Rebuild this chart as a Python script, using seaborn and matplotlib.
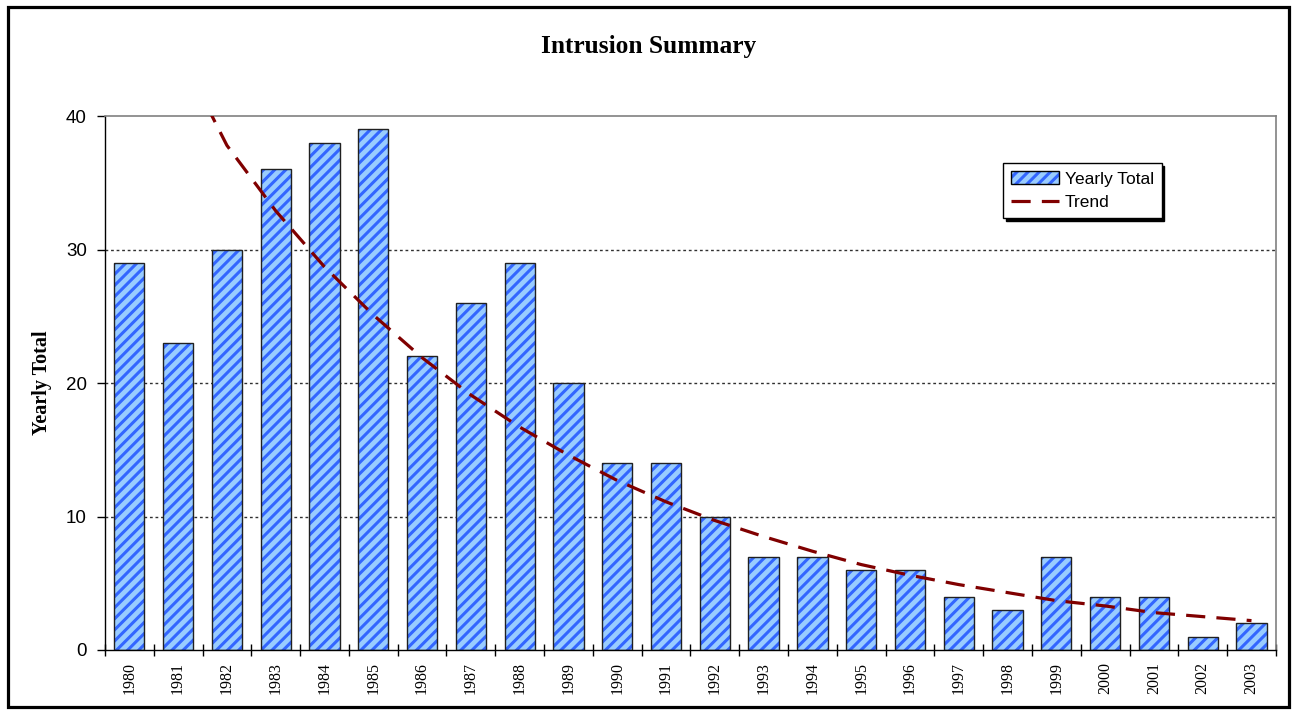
import numpy as np
import pandas as pd
import seaborn as sns
import matplotlib.pyplot as plt
from matplotlib.patches import Patch, Rectangle
from matplotlib.lines import Line2D

# values
years = ["1980", "1981", "1982", "1983", "1984", "1985", "1986", "1987",
         "1988", "1989", "1990", "1991", "1992", "1993", "1994", "1995",
         "1996", "1997", "1998", "1999", "2000", "2001", "2002", "2003"]
yearly_total = [29, 23, 30, 36, 38, 39, 22, 26, 29, 20, 14, 14,
                10, 7, 7, 6, 6, 4, 3, 7, 4, 4, 1, 2]
trend = [51.0, 45.0, 37.8, 32.9, 28.7, 25.1, 21.9, 19.1, 16.7, 14.6, 12.7, 11.1,
         9.7, 8.5, 7.4, 6.4, 5.6, 4.9, 4.3, 3.7, 3.3, 2.8, 2.5, 2.2]
y_ticks = [0, 10, 20, 30, 40]

sns.set_style("white")
plt.rcParams["font.family"] = ["Liberation Sans", "DejaVu Sans"]
plt.rcParams["hatch.linewidth"] = 2.2
# plain black text like the original
for key in ["text.color", "axes.labelcolor", "xtick.color", "ytick.color"]:
    plt.rcParams[key] = "black"

df = pd.DataFrame({"Year": years, "Yearly Total": yearly_total, "Trend": trend})

bar_face = "#99ccff"
hatch_blue = "#3366ff"
trend_red = "#800000"
dash = (0, (6, 3.5))

fig = plt.figure(figsize=(12.94, 7.11), dpi=100)
ax = fig.add_axes([0.0811, 0.0858, 0.9049, 0.751])

# hatched fill, then a black outline on top
sns.barplot(data=df, x="Year", y="Yearly Total", color=bar_face, saturation=1,
            width=0.62, edgecolor=hatch_blue, linewidth=0, hatch="///",
            errorbar=None, ax=ax, zorder=2)
sns.barplot(data=df, x="Year", y="Yearly Total", color="#202020", fill=False,
            width=0.62, linewidth=1, errorbar=None, ax=ax, zorder=3)

sns.pointplot(data=df, x="Year", y="Trend", color=trend_red, marker="",
              linestyle=dash, linewidth=2.3, errorbar=None, ax=ax, zorder=4)

for v in y_ticks[1:-1]:
    ax.axhline(v, color="#303030", linestyle=(0, (2, 2)), linewidth=1, zorder=1)

ax.set_ylim(0, 40)
ax.set_xlim(-0.5, len(years) - 0.5)
ax.set_yticks(y_ticks)
ax.set_xticks(np.arange(len(years) + 1) - 0.5, minor=True)

for side in ["left", "bottom"]:
    ax.spines[side].set_color("black")
    ax.spines[side].set_linewidth(1)
for side in ["top", "right"]:
    ax.spines[side].set_color("#808080")
    ax.spines[side].set_linewidth(1.2)

ax.tick_params(axis="y", left=True, direction="out", length=6, width=1,
               color="black", labelsize=13.5, pad=7)
ax.tick_params(axis="x", which="major", bottom=True, length=0, pad=9)
ax.tick_params(axis="x", which="minor", bottom=True, direction="inout",
               length=9, width=1, color="black")
for lbl in ax.get_xticklabels():
    lbl.set_rotation(90)
    lbl.set_fontfamily("Liberation Serif")
    lbl.set_fontsize(11.5)

ax.set_xlabel("")
ax.set_ylabel("Yearly Total", fontfamily="Liberation Serif", fontweight="bold",
              fontsize=14.5)
ax.yaxis.set_label_coords(-0.0453, 0.5)

fig.text(0.5015, 0.935, "Intrusion Summary", ha="center", va="center",
         fontfamily="Liberation Serif", fontweight="bold", fontsize=18.3)

# legend
hatch_h = Patch(facecolor=bar_face, edgecolor=hatch_blue, hatch="///", linewidth=0)
edge_h = Patch(facecolor="none", edgecolor="black", linewidth=1)
line_h = Line2D([], [], color=trend_red, linestyle=dash, linewidth=2.3)
leg = ax.legend([(hatch_h, edge_h), line_h], ["Yearly Total", "Trend"],
                loc="upper left", bbox_to_anchor=(0.767, 0.912), borderaxespad=0,
                fancybox=False, edgecolor="black", framealpha=1,
                shadow={"color": "black", "alpha": 1},
                fontsize=12.5, handlelength=2.8, handleheight=0.8,
                labelspacing=0.45, handletextpad=0.3, borderpad=0.45)
leg.get_frame().set_linewidth(1)

# outer chart border
fig.add_artist(Rectangle((0.0062, 0.0056), 0.990, 0.9845, transform=fig.transFigure,
                         fill=False, edgecolor="black", linewidth=2.3))

plt.savefig("out.png", dpi=100)
